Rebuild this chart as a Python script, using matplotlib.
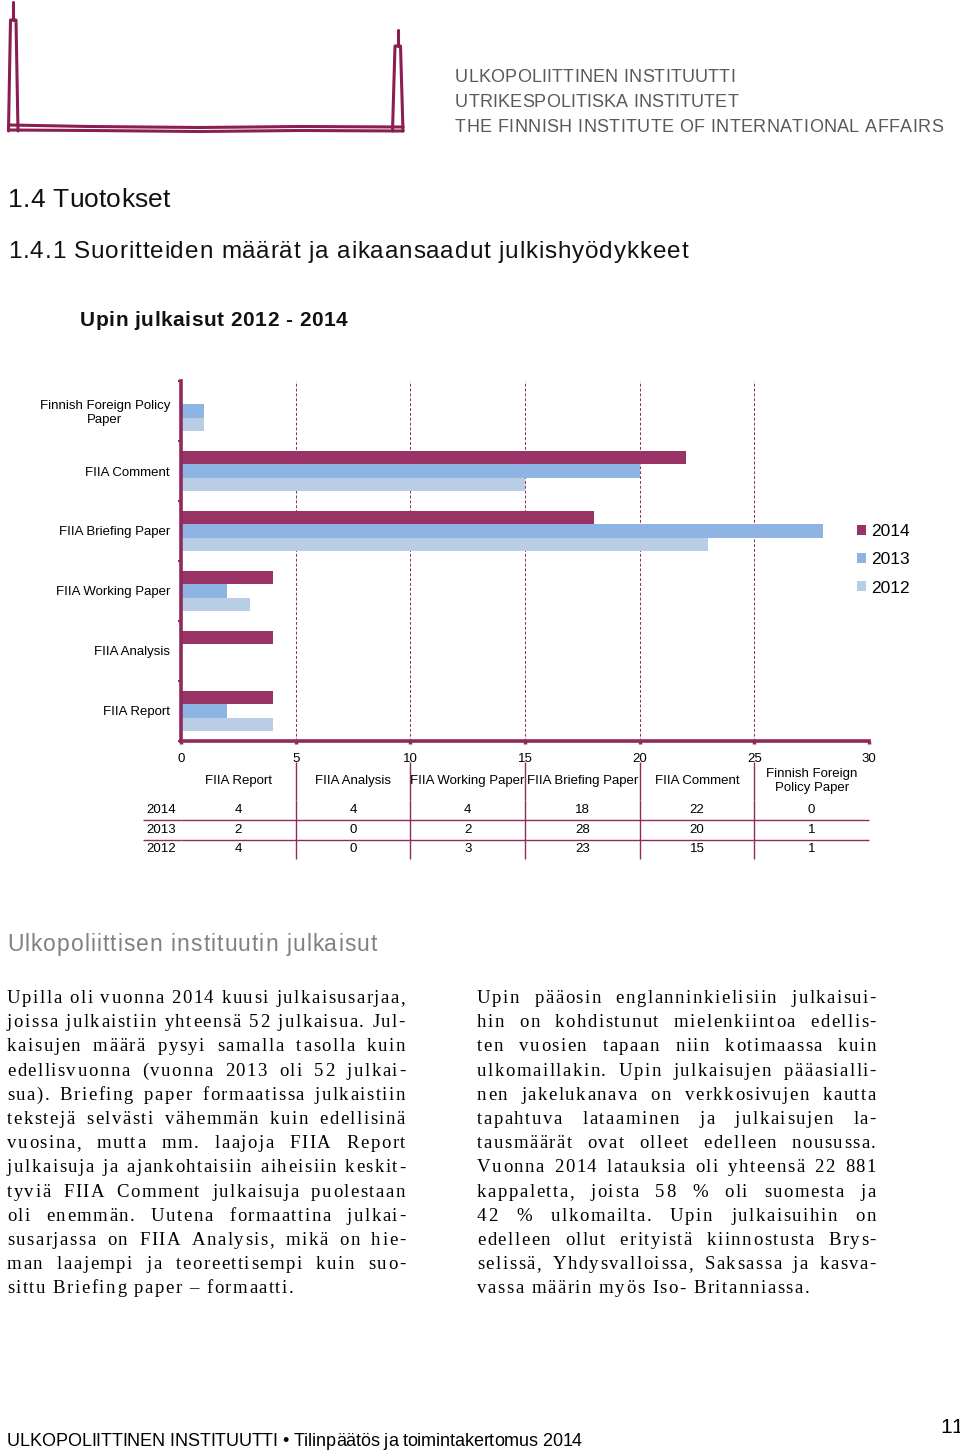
import matplotlib
matplotlib.use("Agg")

import matplotlib.pyplot as plt
import numpy as np
from matplotlib.font_manager import FontProperties
from matplotlib.table import Table

W, H = 960, 1452

# chart data
categories = ["FIIA Report", "FIIA Analysis", "FIIA Working Paper",
              "FIIA Briefing Paper", "FIIA Comment", "Finnish Foreign Policy Paper"]
axis_labels = ["FIIA Report", "FIIA Analysis", "FIIA Working Paper",
               "FIIA Briefing Paper", "FIIA Comment", "Finnish Foreign Policy\nPaper"]
table_headers = ["FIIA Report", "FIIA Analysis", "FIIA Working Paper",
                 "FIIA Briefing Paper", "FIIA Comment", "Finnish Foreign\nPolicy Paper"]
years = ["2014", "2013", "2012"]
pubs_2014 = [4, 4, 4, 18, 22, 0]
pubs_2013 = [2, 0, 2, 28, 20, 1]
pubs_2012 = [4, 0, 3, 23, 15, 1]

# page text
logo_lines = ["ULKOPOLIITTINEN INSTITUUTTI",
              "UTRIKESPOLITISKA INSTITUTET",
              "THE FINNISH INSTITUTE OF INTERNATIONAL AFFAIRS"]
left_col = [
    "Upilla oli vuonna 2014 kuusi julkaisusarjaa,",
    "joissa julkaistiin yhteensä 52 julkaisua. Jul-",
    "kaisujen määrä pysyi samalla tasolla kuin",
    "edellisvuonna (vuonna 2013 oli 52 julkai-",
    "sua). Briefing paper formaatissa julkaistiin",
    "tekstejä selvästi vähemmän kuin edellisinä",
    "vuosina, mutta mm. laajoja FIIA Report",
    "julkaisuja ja ajankohtaisiin aiheisiin keskit-",
    "tyviä FIIA Comment julkaisuja puolestaan",
    "oli enemmän. Uutena formaattina julkai-",
    "susarjassa on FIIA Analysis, mikä on hie-",
    "man laajempi ja teoreettisempi kuin suo-",
    "sittu Briefing paper – formaatti.",
]
right_col = [
    "Upin pääosin englanninkielisiin julkaisui-",
    "hin on kohdistunut mielenkiintoa edellis-",
    "ten vuosien tapaan niin kotimaassa kuin",
    "ulkomaillakin. Upin julkaisujen pääasialli-",
    "nen jakelukanava on verkkosivujen kautta",
    "tapahtuva lataaminen ja julkaisujen la-",
    "tausmäärät ovat olleet edelleen nousussa.",
    "Vuonna 2014 latauksia oli yhteensä 22 881",
    "kappaletta, joista 58 % oli suomesta ja",
    "42 % ulkomailta. Upin julkaisuihin on",
    "edelleen ollut erityistä kiinnostusta Brys-",
    "selissä, Yhdysvalloissa, Saksassa ja kasva-",
    "vassa määrin myös Iso- Britanniassa.",
]

MAROON = "#8E2B5D"
year_colors = {"2014": "#993366", "2013": "#8DB4E2", "2012": "#B9CDE5"}
SANS = ["Liberation Sans", "DejaVu Sans"]
NARROW = ["Liberation Sans Narrow", "Liberation Sans", "DejaVu Sans"]
SERIF = ["Liberation Serif", "DejaVu Serif"]

plt.rcParams["font.family"] = SANS

fig = plt.figure(figsize=(W / 100, H / 100), dpi=100)
renderer = fig.canvas.get_renderer()

# full-page axes in pixel coordinates for the document around the chart
page = fig.add_axes([0, 0, 1, 1])
page.set_xlim(0, W)
page.set_ylim(H, 0)
page.axis("off")

_adv = {}


def advance(ch, prop):
    key = (ch, prop)
    if key not in _adv:
        w2 = renderer.get_text_width_height_descent("HH", prop, False)[0]
        w3 = renderer.get_text_width_height_descent("H" + ch + "H", prop, False)[0]
        _adv[key] = w3 - w2
    return _adv[key]


def spaced(x0, y, s, size, x1=None, track=0.0, words=False,
           family=SANS, weight="normal", color="black"):
    """Draw text char by char with letter spacing; optionally stretch to x1."""
    prop = FontProperties(family=family, size=size, weight=weight)
    adv = [advance(c, prop) for c in s]
    gap = 0.0
    if x1 is not None:
        spare = x1 - x0 - sum(adv) - track * (len(s) - 1)
        if words:
            gap = spare / max(s.count(" "), 1)
        else:
            track += spare / (len(s) - 1)
    x = x0
    for c, a in zip(s, adv):
        if c != " ":
            page.text(x, y, c, fontproperties=prop, color=color,
                      ha="left", va="baseline")
        x += a + track + (gap if c == " " else 0)


# logo
LOGO = "#8B1E50"
logo_kw = dict(color=LOGO, lw=2.2, solid_capstyle="round")
page.plot([8.5, 10.5, 16, 18], [131, 20, 20, 131], **logo_kw)
page.plot([12.5, 12.5], [2, 20], **logo_kw)
page.plot([392.5, 395, 400.5, 403], [131, 46, 46, 131], **logo_kw)
page.plot([398, 398], [30, 46], **logo_kw)
page.plot([8.5, 90, 200, 300, 403], [125, 126.5, 127.5, 126.5, 127], **logo_kw)
page.plot([8.5, 90, 200, 300, 403], [130, 130.5, 131.5, 130.5, 131], **logo_kw)
for i, line in enumerate(logo_lines):
    x_end = [735, 738, 943][i]
    spaced(455, 82 + 25 * i, line, 13, x1=x_end, family=NARROW,
           color="#595959")

# headings
spaced(8, 207, "1.4 Tuotokset", 19, x1=170, family=NARROW, color="#111111")
spaced(8, 258, "1.4.1 Suoritteiden määrät ja aikaansaadut julkishyödykkeet",
       17.5, x1=688, family=NARROW, color="#111111")
spaced(80, 326, "Upin julkaisut 2012 - 2014", 15, x1=347, weight="bold",
       color="#111111")
spaced(7, 951, "Ulkopoliittisen instituutin julkaisut", 16.5, x1=377,
       color="#808080")

# body text, justified columns
for i, (ltxt, rtxt) in enumerate(zip(left_col, right_col)):
    yb = 1003 + 24.2 * i
    last = i == len(left_col) - 1
    spaced(7, yb, ltxt, 13.5, x1=None if last else 405, track=1.5,
           words=True, family=SERIF)
    spaced(477, yb, rtxt, 13.5, x1=None if last else 876, track=1.5,
           words=True, family=SERIF)

# footer
spaced(7, 1446, "ULKOPOLIITTINEN INSTITUUTTI • Tilinpäätös ja toimintakertomus 2014",
       13, x1=582, family=NARROW)
spaced(940, 1433, "11", 15, family=NARROW)

# chart
ax = fig.add_axes([181 / W, 1 - 741 / H, 688 / W, 360 / H])
y = np.arange(len(categories))
h = 0.225
for vals, yr, off in zip([pubs_2014, pubs_2013, pubs_2012], years, [h, 0, -h]):
    ax.barh(y + off, vals, height=h, color=year_colors[yr], label=yr)

ax.set_axisbelow(True)
ax.set_xlim(0, 30)
ax.set_ylim(-0.5, len(categories) - 0.5)
ax.set_xticks(range(0, 31, 5))
ax.set_yticks(y, axis_labels)
ax.set_yticks(np.arange(-0.5, len(categories)), minor=True)
ax.get_yticklabels()[-1].set_multialignment("center")
ax.tick_params(axis="y", which="major", length=0, pad=8, labelsize=9.5)
ax.tick_params(axis="y", which="minor", length=2.5, width=1.5, color=MAROON)
ax.tick_params(axis="x", length=2, width=2.5, color=MAROON, pad=6.5, labelsize=9.5)
ax.grid(axis="x", color=MAROON, linestyle=(0, (3, 2)), linewidth=0.7)
for side in ["top", "right"]:
    ax.spines[side].set_visible(False)
for side in ["left", "bottom"]:
    ax.spines[side].set_color(MAROON)
    ax.spines[side].set_linewidth(2.6)

leg = ax.legend(loc="center left", bbox_to_anchor=(852, 560),
                bbox_transform=page.transData, fontsize=12.5, frameon=True,
                handlelength=0.5, handleheight=0.5, handletextpad=0.3,
                labelspacing=0.75, borderpad=0.3, borderaxespad=0)
leg.get_frame().set_edgecolor("none")
leg.get_frame().set_facecolor("white")
leg.get_frame().set_alpha(1)

# data table under the chart, columns aligned to the x-axis intervals
tb = Table(ax, bbox=[(143 - 181) / 688, (741 - 859) / 360, 726 / 688, 97 / 360])
col_w = [38] + [688 / 6] * len(categories)
row_h = [38, 20, 20, 19]
ncol = len(categories) + 1
rows = [[""] + table_headers] + [
    [yr] + [str(v) for v in vals]
    for yr, vals in zip(years, [pubs_2014, pubs_2013, pubs_2012])
]
for r, row in enumerate(rows):
    for c, txt in enumerate(row):
        cell = tb.add_cell(r, c, width=col_w[c], height=row_h[r], text=txt,
                           loc="left" if c == 0 else "center",
                           edgecolor=MAROON, facecolor="none")
        cell.set_linewidth(1.0)
        inner = "R" if 0 < c < ncol - 1 else ""
        bottom = "B" if r in (1, 2) else ""
        cell.visible_edges = (inner + bottom) or "open"
tb.auto_set_font_size(False)
tb.set_fontsize(9.5)
ax.add_table(tb)

fig.savefig("out.png", dpi=100)
